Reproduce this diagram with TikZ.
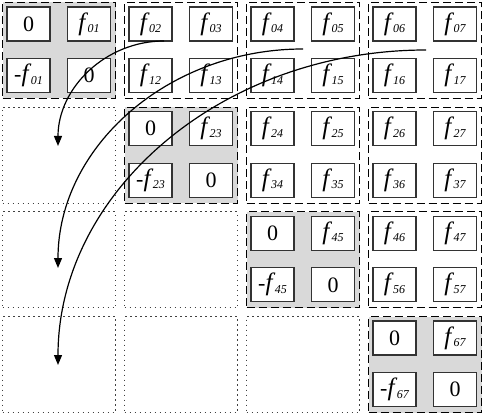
\documentclass[tikz,border=0pt]{standalone}
\usepackage{fontspec}
\setmainfont{Liberation Serif}
\usetikzlibrary{calc,arrows.meta}
\definecolor{shade}{RGB}{217,217,217}
\definecolor{cellline}{RGB}{51,51,51}
\newcommand\F[1]{{\fontsize{25}{25}\selectfont\textit{f}}\kern-0.5pt\raisebox{-2.5pt}{\fontsize{12}{12}\selectfont\itshape #1}}
\begin{document}
\begin{tikzpicture}[x=1pt,y=-1pt,
  blockbox/.style={rectangle,anchor=north west,minimum width=113pt,minimum height=96pt,inner sep=0pt},
  dashbox/.style={blockbox,draw=black,line width=1pt,dash pattern=on 8pt off 4pt},
  dotbox/.style={blockbox,draw=black!75,line width=1pt,dash pattern=on 1.1pt off 3.9pt},
  cellbox/.style={rectangle,draw=cellline,fill=white,line width=1.3pt,minimum width=43pt,minimum height=34pt,inner sep=0pt,font=\fontsize{22}{22}\selectfont},
  arr/.style={draw=black,line width=1.2pt,-{Triangle[length=10pt,width=8pt]}}]
\useasboundingbox (0,0) rectangle (484,414);
\foreach \r in {0,...,3}{
  \foreach \c in {0,...,3}{
    \pgfmathsetmacro\bx{2+122*\c}
    \pgfmathsetmacro\by{2+104.67*\r}
    \pgfmathtruncatemacro\ia{2*\r}
    \pgfmathtruncatemacro\ib{2*\r+1}
    \pgfmathtruncatemacro\ja{2*\c}
    \pgfmathtruncatemacro\jb{2*\c+1}
    \ifnum\r>\c
      \node[dotbox] (b\r\c) at (\bx,\by) {};
    \else
      \ifnum\r=\c
        \node[dashbox,fill=shade] (b\r\c) at (\bx,\by) {};
        \node[cellbox] (b\r\c-a) at ($(b\r\c.north west)+(26.5,22)$) {0};
        \node[cellbox] (b\r\c-b) at ($(b\r\c.north west)+(87,22)$) {\F{\ia\ib}};
        \node[cellbox] (b\r\c-c) at ($(b\r\c.north west)+(26.5,73.5)$) {-\F{\ia\ib}};
        \node[cellbox] (b\r\c-d) at ($(b\r\c.north west)+(87,73.5)$) {0};
      \else
        \node[dashbox] (b\r\c) at (\bx,\by) {};
        \node[cellbox] (b\r\c-a) at ($(b\r\c.north west)+(26.5,22)$) {\F{\ia\ja}};
        \node[cellbox] (b\r\c-b) at ($(b\r\c.north west)+(87,22)$) {\F{\ia\jb}};
        \node[cellbox] (b\r\c-c) at ($(b\r\c.north west)+(26.5,73.5)$) {\F{\ib\ja}};
        \node[cellbox] (b\r\c-d) at ($(b\r\c.north west)+(87,73.5)$) {\F{\ib\jb}};
      \fi
    \fi
  }
}
\coordinate (s1) at (164,41);
\coordinate (t1) at (58,146);
\coordinate (s2) at (303,49);
\coordinate (t2) at (58,268);
\coordinate (s3) at (426,50);
\coordinate (t3) at (58,365);
\foreach \k in {1,2,3}{
  \draw[arr] (s\k) .. controls ($(s\k)!0.552!(t\k|-s\k)$) and ($(t\k)!0.552!(t\k|-s\k)$) .. (t\k);
}
\end{tikzpicture}
\end{document}
